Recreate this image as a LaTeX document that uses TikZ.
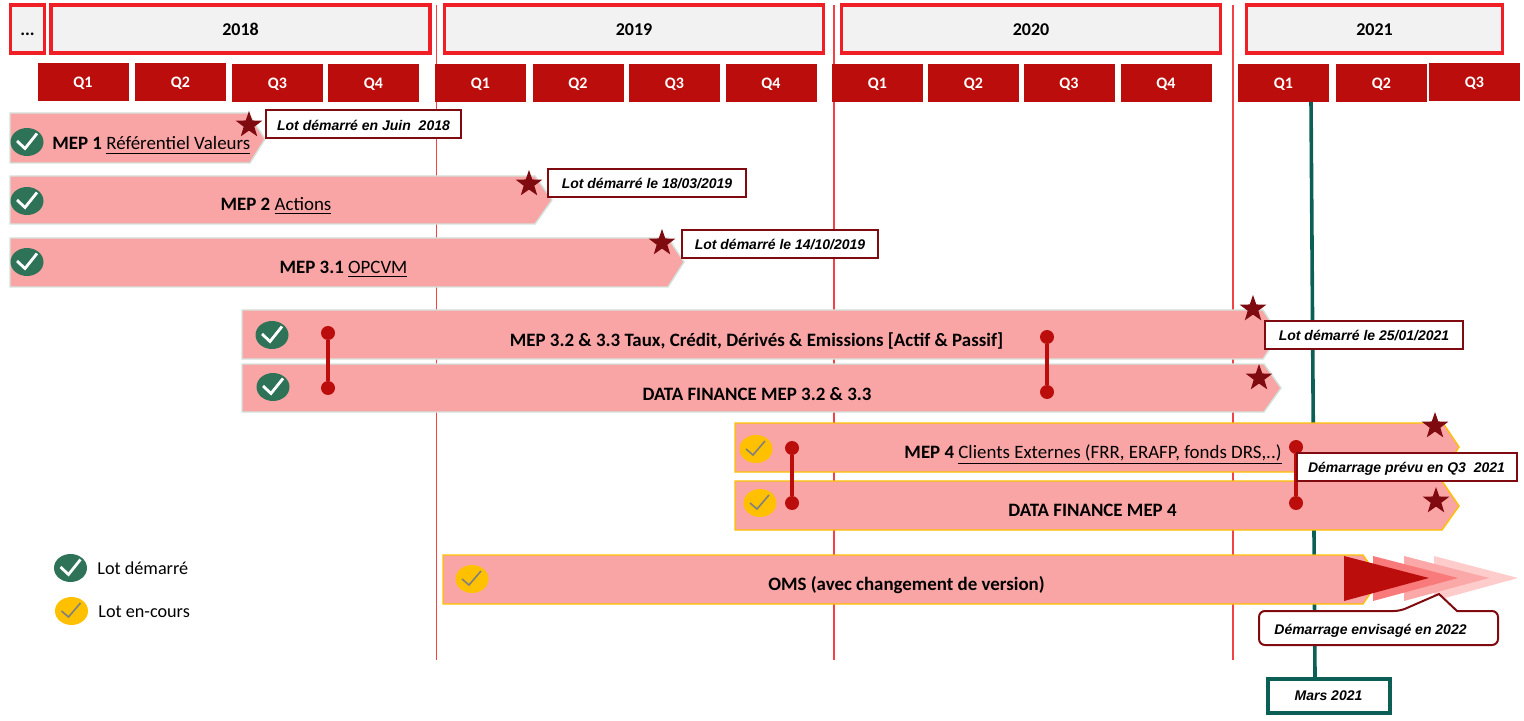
\documentclass[tikz,border=0pt]{standalone}
\usepackage{fontspec}
\setmainfont{Carlito}
\newfontfamily\callfont{Liberation Sans}
\usepackage{xcolor}
\usetikzlibrary{shapes.geometric, positioning, calc}
\definecolor{yearred}{HTML}{F01F26}
\definecolor{quartred}{HTML}{BC0D0D}
\definecolor{barpink}{HTML}{F9A5A5}
\definecolor{bardone}{HTML}{D3E3DC}
\definecolor{bargold}{HTML}{FFC000}
\definecolor{stardark}{HTML}{7F0A0F}
\definecolor{okgreen}{HTML}{2E7358}
\definecolor{tealbar}{HTML}{0B5F55}
\definecolor{fadea}{HTML}{F87A7A}
\definecolor{fadeb}{HTML}{FBA8A8}
\definecolor{fadec}{HTML}{FFCCCC}
\tikzset{
  yearbox/.style={draw=yearred,line width=1.8pt,fill=black!5,minimum height=24pt,inner sep=0pt,text height=7pt,text depth=0pt,font=\fontsize{9}{11}\selectfont\bfseries},
  quarter/.style={fill=quartred,text=white,minimum width=45.5pt,minimum height=19pt,inner sep=0pt,text height=5.5pt,text depth=0pt,font=\fontsize{8}{10}\selectfont\bfseries},
  gridline/.style={draw=yearred!85,line width=0.6pt},
  lotdone/.style={fill=barpink,draw=bardone,line width=0.7pt},
  lotrun/.style={fill=barpink,draw=bargold,line width=0.7pt},
  lottext/.style={inner sep=0pt,anchor=base,font=\fontsize{9.45}{11}\selectfont},
  lotbold/.style={lottext,font=\fontsize{9.45}{11}\selectfont\bfseries},
  calltext/.style={font=\callfont\fontsize{7}{8}\selectfont\bfseries\itshape},
  callbox/.style={calltext,draw=stardark,line width=1pt,fill=white,minimum height=14pt,inner sep=0pt,text height=6.6pt,text depth=1pt},
  jalon/.style={star,star points=5,star point ratio=2.5,fill=stardark,minimum size=14pt,inner sep=0pt},
  okmark/.style={ellipse,fill=okgreen,minimum width=16.5pt,minimum height=14pt,inner sep=0pt,path picture={
      \draw[white,line width=1.4pt] ($(path picture bounding box.center)+(-10,-1)$) -- ++(8,7.5) -- ++(12,-15);}},
  runmark/.style={ellipse,fill=bargold,minimum width=16.5pt,minimum height=14pt,inner sep=0pt,path picture={
      \draw[black!50,line width=0.8pt] ($(path picture bounding box.center)+(-10,0)$) -- ++(7,6) -- ++(12,-14);}},
  reddot/.style={circle,fill=quartred,minimum size=7pt,inner sep=0pt},
  redlink/.style={draw=quartred,line width=2pt}
}
\begin{document}
\begin{tikzpicture}[x=0.5pt,y=-0.5pt]
    \useasboundingbox (0,0) rectangle (1524,721);

    % lignes des annees
    \foreach \gx in {436.5,834,1233}
      \draw[gridline] (\gx,5) -- (\gx,660);

    % annees
    \node[yearbox,minimum width=17pt] (yrdots) at (27.5,29) {...};
    \foreach \yname/\yx/\ywd in {2018/240.5/189.5, 2019/634/189.5, 2020/1031/189.5, 2021/1374.5/128}
      \node[yearbox,minimum width=\ywd pt] (yr\yname) at (\yx,29) {\yname};

    % trimestres
    \foreach \qname/\qx/\qy/\qtxt in {
      a/83/82/Q1, b/180.5/82/Q2, c/277.5/83/Q3, d/373.5/83/Q4,
      e/480.5/83/Q1, f/578/83/Q2, g/674.5/83/Q3, h/771/83/Q4,
      i/877.5/83.5/Q1, j/973.5/83.5/Q2, k/1069/83.5/Q3, l/1166/83.5/Q4,
      m/1283.5/83.5/Q1, n/1381.5/83.5/Q2, o/1474.5/82/Q3}
      \node[quarter] (q\qname) at (\qx,\qy) {\qtxt};

    % aujourd'hui
    \node[calltext,draw=tealbar,line width=2pt,fill=white,minimum width=61pt,minimum height=17pt,inner sep=0pt] (mars) at (1328.5,696) {Mars 2021};
    \coordinate (martop) at (1311,102);
    \draw[tealbar,line width=1.8pt] (martop) -- (mars.north -| 1315,0);

    % lots
    \draw[lotdone] (10,113) -- (248,113) -- (265,139) -- (250,163) -- (10,163) -- cycle;
    \draw[lotdone] (10,176) -- (535,176) -- (552,200) -- (535,224) -- (10,224) -- cycle;
    \draw[lotdone] (10,238) -- (668,238) -- (684,262) -- (668,287) -- (10,287) -- cycle;
    \draw[lotdone] (242,310) -- (1263,310) -- (1279,335) -- (1263,359) -- (242,359) -- cycle;
    \draw[lotdone] (242,364) -- (1264,364) -- (1281,388) -- (1264,412) -- (242,412) -- cycle;
    \draw[lotrun] (735,423) -- (1443,423) -- (1459,447) -- (1443,472) -- (735,472) -- cycle;
    \draw[lotrun] (735,481) -- (1442,481) -- (1459,506) -- (1442,530) -- (735,530) -- cycle;
    \draw[lotrun] (443,555) -- (1363,555) -- (1380,579) -- (1363,604) -- (443,604) -- cycle;

    % textes des lots
    \node[lottext,anchor=base west] (txta) at (52,150) {\textbf{MEP 1} \underline{Référentiel Valeurs}};
    \node[lottext] (txtb) at (276,210.5) {\textbf{MEP 2} \underline{Actions}};
    \node[lottext] (txtc) at (343.5,273.7) {\textbf{MEP 3.1} \underline{OPCVM}};
    \node[lotbold] (txtd) at (756.5,346) {MEP 3.2 \& 3.3 Taux, Crédit, Dérivés \& Emissions [Actif \& Passif]};
    \node[lotbold] (txte) at (757,400) {DATA FINANCE MEP 3.2 \& 3.3};
    \node[lottext] (txtf) at (1093,458) {\textbf{MEP 4} \underline{Clients Externes (FRR, ERAFP, fonds DRS,..)}};
    \node[lotbold] (txtg) at (1092.5,516.5) {DATA FINANCE MEP 4};
    \node[lotbold] (txth) at (906.5,590) {OMS (avec changement de version)};

    % fleche OMS
    \fill[fadec] (1434,556) -- (1518,578) -- (1434,601) -- cycle;
    \fill[fadeb] (1404,556) -- (1489,578) -- (1404,601) -- cycle;
    \fill[fadea] (1373,556) -- (1458,578) -- (1373,601) -- cycle;
    \fill[quartred] (1344,556) -- (1429,578) -- (1344,601) -- cycle;

    % coches
    \node[okmark] (chka) at (27,142) {};
    \node[okmark] (chkb) at (27,201) {};
    \node[okmark] (chkc) at (27,262) {};
    \node[okmark] (chkd) at (272,335) {};
    \node[okmark] (chke) at (273,387) {};
    \node[runmark] (chkf) at (756,449) {};
    \node[runmark] (chkg) at (760,503) {};
    \node[runmark] (chkh) at (472,579) {};

    % liens entre lots
    \node[reddot] (dota) at (328,333) {};
    \node[reddot] (dotb) at (328,388) {};
    \node[reddot] (dotc) at (1047,337) {};
    \node[reddot] (dotd) at (1047,392) {};
    \node[reddot] (dote) at (792,448) {};
    \node[reddot] (dotf) at (792,503) {};
    \node[reddot] (dotg) at (1296,447) {};
    \node[reddot] (doth) at (1296,503) {};
    \draw[redlink] (dota) -- (dotb);
    \draw[redlink] (dotc) -- (dotd);
    \draw[redlink] (dote) -- (dotf);
    \draw[redlink] (dotg) -- (doth);

    % etoiles
    \foreach \sname/\sx/\sy in {a/249/125, b/529/184, c/662/243, d/1253/309, e/1259/378, f/1435/426, g/1436/501}
      \node[jalon] (star\sname) at (\sx,\sy) {};

    % bulles
    \node[callbox,minimum width=97.5pt] (calla) at (363.5,124.5) {Lot démarré en Juin\ \ 2018};
    \node[callbox,minimum width=99pt] (callb) at (647,183) {Lot démarré le 18/03/2019};
    \node[callbox,minimum width=98pt] (callc) at (780,244) {Lot démarré le 14/10/2019};
    \node[callbox,minimum width=99pt] (calld) at (1364,335) {Lot démarré le 25/01/2021};
    \node[callbox,minimum width=110pt] (calle) at (1406.5,466.5) {Démarrage prévu en Q3\ \ 2021};
    \draw[draw=stardark,line width=1pt,fill=white,rounded corners=3pt]
      (1259,611) -- (1400,611) [sharp corners] -- (1439,594) -- (1457,611) [rounded corners=3pt] -- (1498,611) -- (1498,645) -- (1259,645) -- cycle;
    \node[calltext,inner sep=0pt,anchor=base] (callf) at (1370.5,634.3) {Démarrage envisagé en 2022};

    % legende
    \node[okmark] (legok) at (70.5,568) {};
    \node[runmark] (legrun) at (71.5,611) {};
    \node[lottext,anchor=base west,font=\fontsize{9.1}{11}\selectfont] (legoktxt) at (97,574) {Lot démarré};
    \node[lottext,anchor=base west,font=\fontsize{9.1}{11}\selectfont] (legruntxt) at (98,617) {Lot en-cours};
  \end{tikzpicture}
\end{document}
